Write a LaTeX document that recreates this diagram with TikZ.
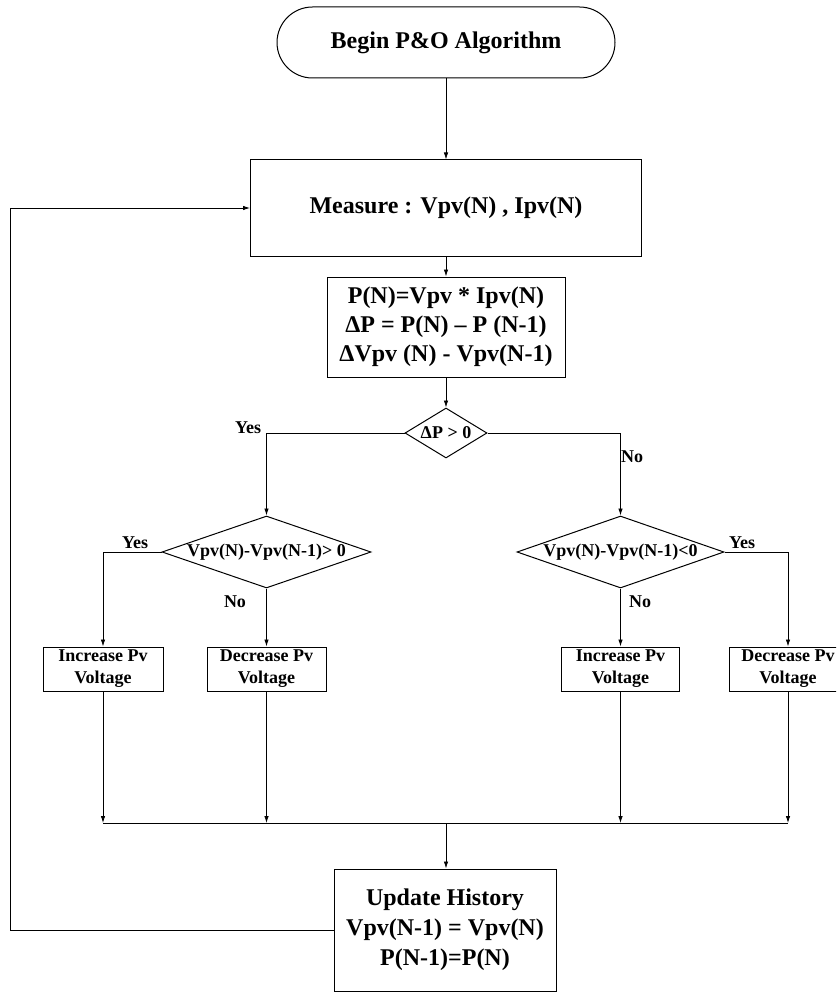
\documentclass[tikz,border=0pt]{standalone}
\usepackage{fontspec}
\setmainfont{Liberation Serif}
\usetikzlibrary{shapes.geometric,arrows.meta}
\begin{document}
\begin{tikzpicture}[x=1pt,y=-1pt,
  box/.style={draw, line width=1pt, inner sep=0pt, align=center},
  big/.style={font=\fontsize{24}{29}\selectfont\bfseries},
  small/.style={font=\fontsize{18}{22}\selectfont\bfseries},
  dia/.style={draw, diamond, line width=1pt, inner sep=0pt, font=\fontsize{18}{22}\selectfont\bfseries},
  arr/.style={line width=0.8pt, -{Latex[length=7pt,width=4.5pt]}},
  ln/.style={line width=0.8pt},
  lbl/.style={font=\fontsize{18}{22}\selectfont\bfseries, inner sep=0pt}
]
\useasboundingbox (0,0) rectangle (836,992);
\clip (0,0) rectangle (836,992);

\node[box, big, rounded corners=35.5pt, minimum width=338pt, minimum height=71pt] (start) at (446,42.5) {Begin P\&O Algorithm};
\node[box, big, minimum width=391pt, minimum height=96pt] (measure) at (446,208) {Measure : Vpv(N) , Ipv(N)};
\node[box, big, minimum width=238pt, minimum height=100pt] (calc) at (446,327) {P(N)=Vpv * Ipv(N)\\ΔP = P(N) – P (N-1)\\ΔVpv (N) - Vpv(N-1)};
\node[dia, minimum width=82pt, minimum height=50pt] (d1) at (446,433) {\makebox[0pt]{ΔP > 0}};
\node[dia, minimum width=209pt, minimum height=72pt] (d2) at (266.5,552) {\makebox[0pt]{Vpv(N)-Vpv(N-1)> 0}};
\node[dia, minimum width=207pt, minimum height=72pt] (d3) at (620.5,552) {\makebox[0pt]{Vpv(N)-Vpv(N-1)<0}};

\node[box, small, minimum width=120pt, minimum height=44pt] (b1) at (103,669) {Increase Pv\\Voltage};
\node[box, small, minimum width=119pt, minimum height=44pt] (b2) at (266.5,669) {Decrease Pv\\Voltage};
\node[box, small, minimum width=118pt, minimum height=44pt] (b3) at (620.5,669) {Increase Pv\\Voltage};
\node[box, small, minimum width=118pt, minimum height=44pt] (b4) at (788,669) {Decrease Pv\\Voltage};

\node[box, font=\fontsize{24}{30}\selectfont\bfseries, minimum width=222pt, minimum height=122pt] (update) at (445,930) {Update History\\Vpv(N-1) = Vpv(N)\\P(N-1)=P(N)};

\node[lbl] (y1) at (248,428) {Yes};
\node[lbl] (n1) at (632,457) {No};
\node[lbl] (y2) at (135,543) {Yes};
\node[lbl] (n2) at (235,602) {No};
\node[lbl] (y3) at (742,543) {Yes};
\node[lbl] (n3) at (640,602) {No};

\coordinate (mc) at (446,823);
\coordinate (fb) at (10,930);

\draw[arr] (start.south) -- (measure.north);
\draw[arr] (measure.south) -- (calc.north);
\draw[arr] (calc.south) -- (d1.north);
\draw[arr] (d1.west) -| (d2.north);
\draw[arr] (d1.east) -| (d3.north);
\draw[arr] (d2.west) -| (b1.north);
\draw[arr] (d2.south) -- (b2.north);
\draw[arr] (d3.east) -| (b4.north);
\draw[arr] (d3.south) -- (b3.north);
\draw[arr] (b1.south) -- (b1.south |- mc);
\draw[arr] (b2.south) -- (b2.south |- mc);
\draw[arr] (b3.south) -- (b3.south |- mc);
\draw[arr] (b4.south) -- (b4.south |- mc);
\draw[ln] (b1.south |- mc) -- (b4.south |- mc);
\draw[arr] (mc) -- (mc |- update.north);
\draw[arr] (update.west) -- (fb) |- (measure.west);
\end{tikzpicture}
\end{document}
